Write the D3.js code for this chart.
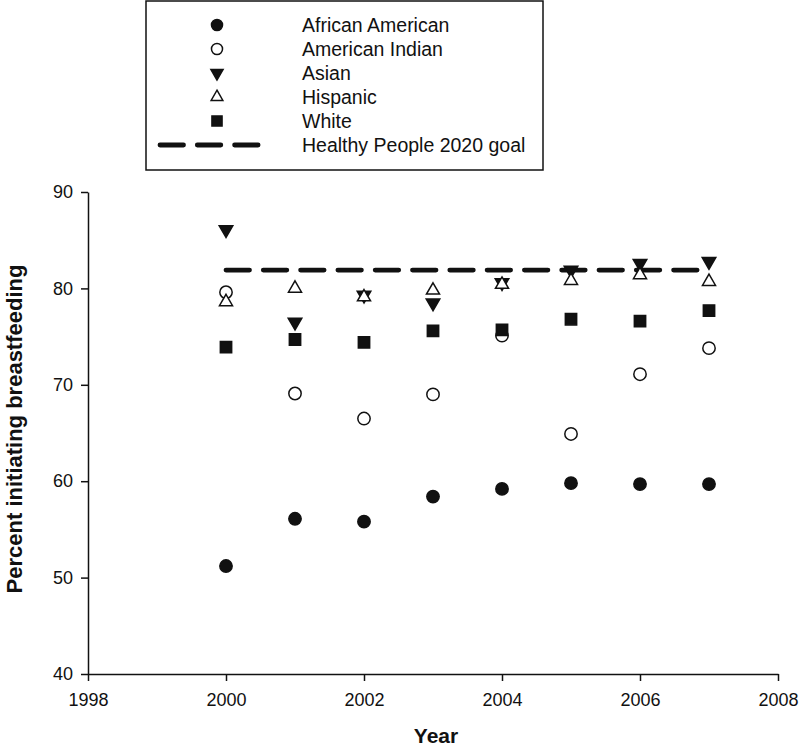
<!DOCTYPE html>
<html>
<head>
<meta charset="utf-8">
<script src="https://cdn.jsdelivr.net/npm/d3@7"></script>
<style>
  body { margin: 0; background: #fff; }
  svg { font-family: "Liberation Sans", Arial, sans-serif; }
</style>
</head>
<body>
<script>
"use strict";

// data
let years = [2000, 2001, 2002, 2003, 2004, 2005, 2006, 2007];
let africanAmerican = [51.2, 56.1, 55.8, 58.4, 59.2, 59.8, 59.7, 59.7];
let americanIndian = [79.6, 69.1, 66.5, 69.0, 75.1, 64.9, 71.1, 73.8];
let asian = [86.1, 76.5, 79.3, 78.5, 80.6, 81.9, 82.6, 82.8];
let hispanic = [78.6, 80.0, 79.1, 79.8, 80.4, 80.8, 81.4, 80.7];
let white = [73.9, 74.7, 74.4, 75.6, 75.7, 76.8, 76.6, 77.7];
let goalYears = [2000, 2007];
let goalValue = 81.9;
let xTicks = [1998, 2000, 2002, 2004, 2006, 2008];
let yTicks = [40, 50, 60, 70, 80, 90];
let seriesNames = ["African American", "American Indian", "Asian", "Hispanic", "White"];

(function()
{
	let width = 800, height = 748;
	let plotLeft = 88, plotRight = 778, plotTop = 192, plotBottom = 674;

	let svg = d3.select("body").append("svg")
		.attr("width", width)
		.attr("height", height);

	let x = d3.scaleLinear().domain([1998, 2008]).range([plotLeft, plotRight]);
	let y = d3.scaleLinear().domain([40, 90]).range([plotBottom, plotTop]);

	//marker styles per series: symbol, filled, rotation
	let markers = [
		{ type: d3.symbolCircle, size: 120, fill: "#111", rot: 0 },
		{ type: d3.symbolCircle, size: 120, fill: "#fff", rot: 0 },
		{ type: d3.symbolTriangle, size: 80, fill: "#111", rot: 180 },
		{ type: d3.symbolTriangle, size: 74, fill: "#fff", rot: 0 },
		{ type: d3.symbolSquare, size: 128, fill: "#111", rot: 0 }
	];
	let seriesData = [africanAmerican, americanIndian, asian, hispanic, white];

	//axes
	let xAxis = svg.append("g")
		.attr("transform", "translate(0," + plotBottom + ")")
		.call(d3.axisBottom(x).tickValues(xTicks).tickFormat(d3.format("d")).tickSize(7).tickPadding(12).tickSizeOuter(0));
	let yAxis = svg.append("g")
		.attr("transform", "translate(" + plotLeft + ",0)")
		.call(d3.axisLeft(y).tickValues(yTicks).tickSize(7).tickPadding(8).tickSizeOuter(0));
	[xAxis, yAxis].forEach(function(a) {
		a.select(".domain").attr("stroke", "#111").attr("stroke-width", 1.5);
		a.selectAll(".tick line").attr("stroke", "#111").attr("stroke-width", 1.5);
		a.selectAll(".tick text").attr("fill", "#111").style("font-size", "18px").style("font-family", "Liberation Sans, Arial, sans-serif");
	});

	//axis titles
	svg.append("text")
		.attr("x", (plotLeft + plotRight) / 2 + 3)
		.attr("y", 743)
		.attr("text-anchor", "middle")
		.attr("font-size", 21)
		.attr("font-weight", "bold")
		.attr("fill", "#111")
		.text("Year");
	svg.append("text")
		.attr("transform", "translate(22," + ((plotTop + plotBottom) / 2 - 4) + ") rotate(-90)")
		.attr("text-anchor", "middle")
		.attr("font-size", 22)
		.attr("font-weight", "bold")
		.attr("fill", "#111")
		.text("Percent initiating breastfeeding");

	//goal line
	let line = d3.line()
		.x(function(d) { return x(d); })
		.y(function() { return y(goalValue); });
	svg.append("path")
		.attr("d", line(goalYears))
		.attr("fill", "none")
		.attr("stroke", "#111")
		.attr("stroke-width", 4.8)
		.attr("stroke-linecap", "round")
		.attr("stroke-dasharray", "23.5,13.8");

	//points
	seriesData.forEach(function(vals, i) {
		let m = markers[i];
		let sym = d3.symbol().type(m.type).size(m.size);
		svg.append("g").selectAll("path")
			.data(vals)
			.enter().append("path")
			.attr("d", sym)
			.attr("transform", function(d, j) { return "translate(" + x(years[j]) + "," + y(d) + ") rotate(" + m.rot + ")"; })
			.attr("fill", m.fill)
			.attr("stroke", "#111")
			.attr("stroke-width", 1.5);
	});

	//legend
	let legend = svg.append("g");
	legend.append("rect")
		.attr("x", 146).attr("y", 1)
		.attr("width", 397).attr("height", 169)
		.attr("fill", "#fff")
		.attr("stroke", "#111")
		.attr("stroke-width", 1.5);
	let rowY = d3.scaleLinear().domain([0, 5]).range([25, 145]);
	seriesNames.forEach(function(name, i) {
		let m = markers[i];
		legend.append("path")
			.attr("d", d3.symbol().type(m.type).size(m.size * 0.8)())
			.attr("transform", "translate(217," + rowY(i) + ") rotate(" + m.rot + ")")
			.attr("fill", m.fill)
			.attr("stroke", "#111")
			.attr("stroke-width", 1.5);
		legend.append("text")
			.attr("x", 302).attr("y", rowY(i) + 7)
			.attr("font-size", 19.5)
			.attr("fill", "#111")
			.text(name);
	});
	legend.append("line")
		.attr("x1", 160).attr("x2", 262)
		.attr("y1", rowY(5)).attr("y2", rowY(5))
		.attr("stroke", "#111")
		.attr("stroke-width", 4.8)
		.attr("stroke-linecap", "round")
		.attr("stroke-dasharray", "23.5,13.8");
	legend.append("text")
		.attr("x", 302).attr("y", rowY(5) + 7)
		.attr("font-size", 19.5)
		.attr("fill", "#111")
		.text("Healthy People 2020 goal");
})();
</script>
</body>
</html>
